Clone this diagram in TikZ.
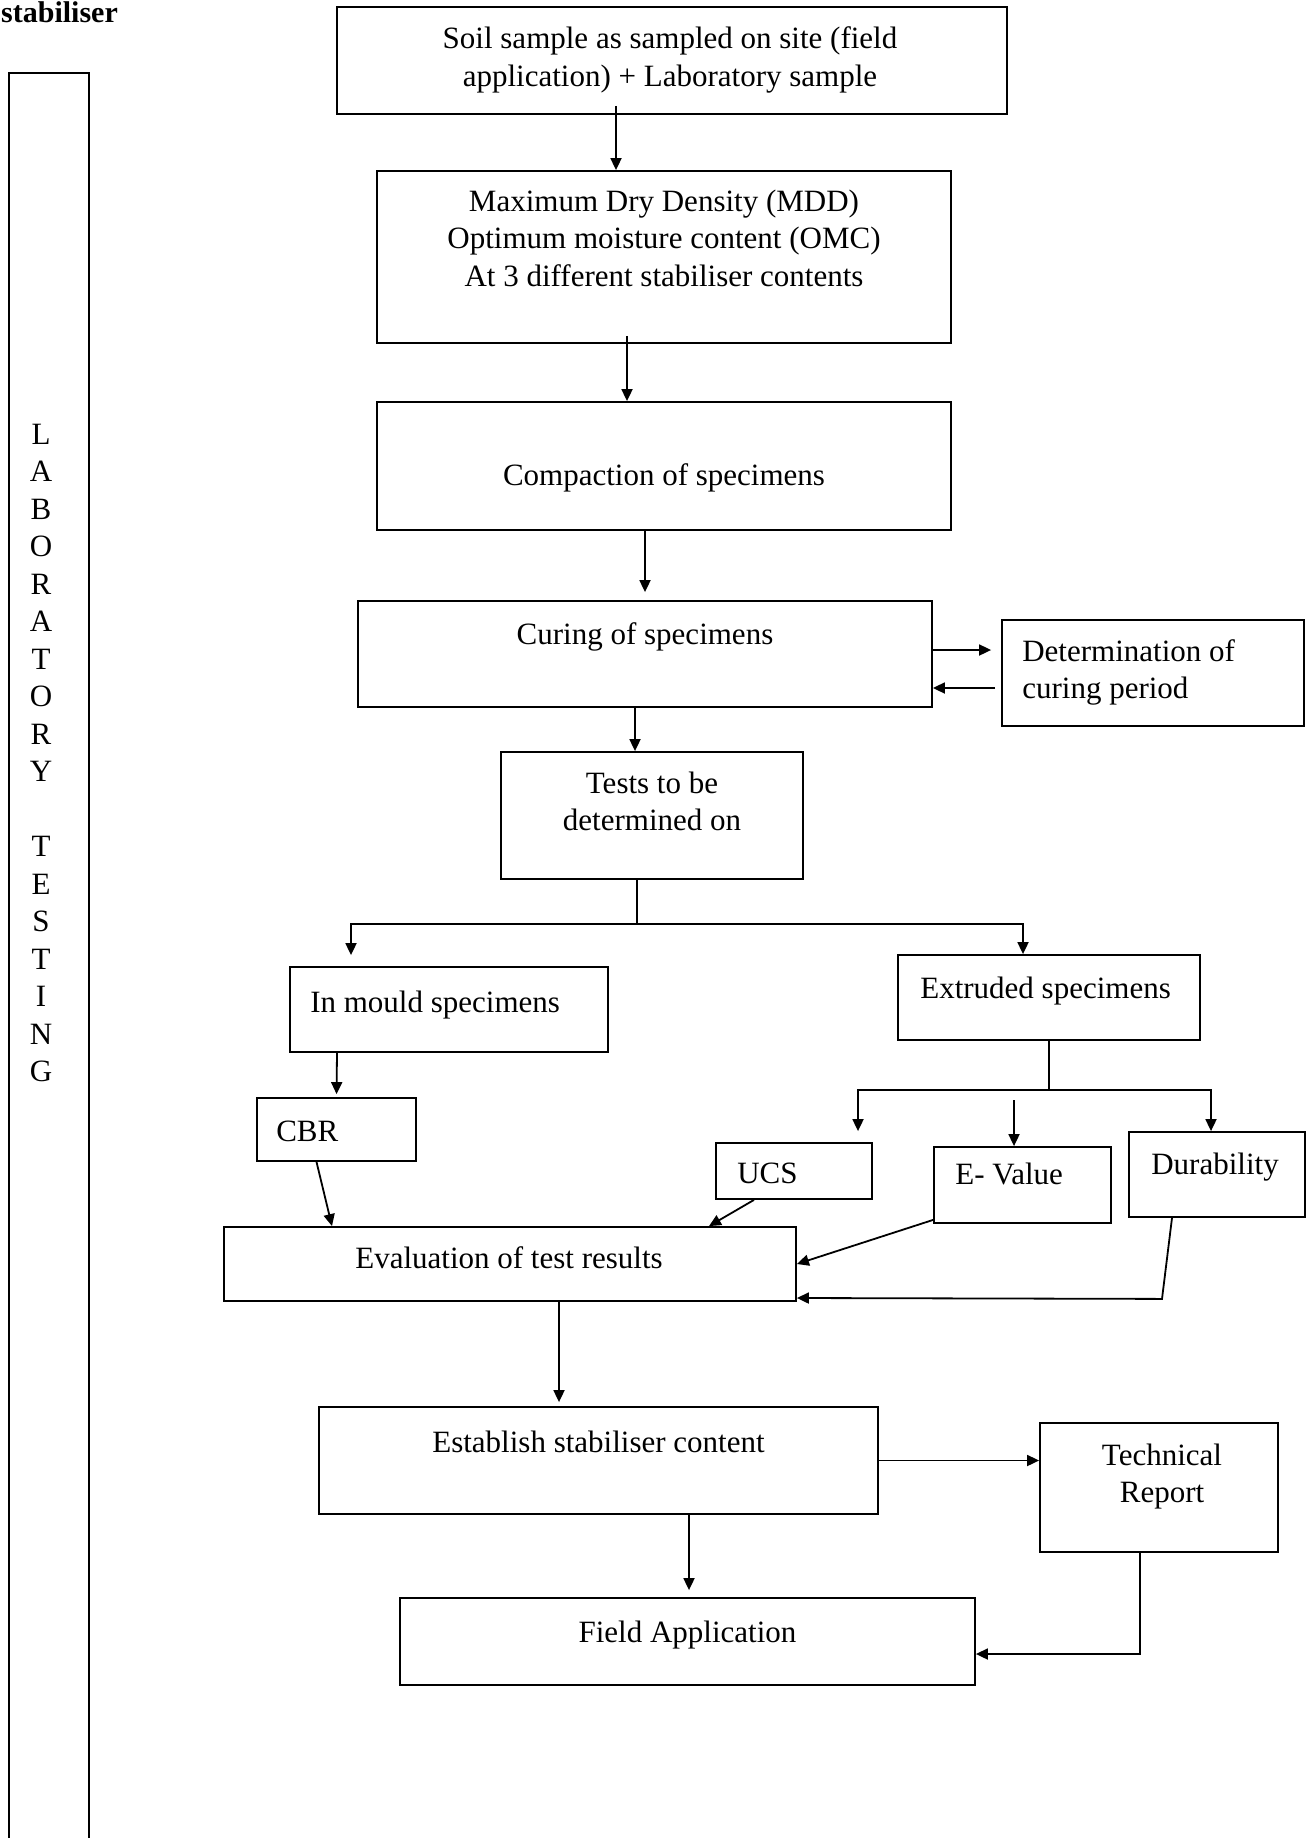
\documentclass[tikz,border=0pt]{standalone}
\usepackage{fontspec}
\setmainfont{Liberation Serif}
\usetikzlibrary{arrows.meta}

\begin{document}
\begin{tikzpicture}[x=1pt,y=-1pt,
  box/.style={rectangle,draw,line width=1.8pt,inner sep=0pt},
  txt/.style={inner sep=0pt,align=center,font=\fontsize{31}{37.5}\selectfont},
  arr/.style={line width=1.8pt,-{Triangle[length=12pt,width=11pt]}}]
\useasboundingbox (0,0) rectangle (1314,1838);

% side column
\node[inner sep=0pt,anchor=base west,font=\fontsize{30}{36}\selectfont\bfseries] (title) at (1,23) {stabiliser};
\node[box,minimum width=80pt,minimum height=1787pt] (lab) at (49,966.5) {};
\node[txt,anchor=north] (labT) at (41,423.5) {L\\A\\B\\O\\R\\A\\T\\O\\R\\Y\\[37.5pt]T\\E\\S\\T\\I\\N\\G};

% main column
\node[box,minimum width=670pt,minimum height=107pt] (soil) at (672,60.5) {};
\node[txt] (soilT) at ([xshift=-2pt,yshift=0.5pt]soil) {Soil sample as sampled on site (field\\application) + Laboratory sample};
\node[box,minimum width=574pt,minimum height=172pt] (mdd) at (664,257) {};
\node[txt] (mddT) at ([yshift=19pt]mdd) {Maximum Dry Density (MDD)\\Optimum moisture content (OMC)\\At 3 different stabiliser contents};
\node[box,minimum width=574pt,minimum height=128pt] (comp) at (664,466) {};
\node[txt] (compT) at ([yshift=-11.5pt]comp) {Compaction of specimens};
\node[box,minimum width=574pt,minimum height=106pt] (cure) at (645,654) {};
\node[txt] (cureT) at ([yshift=17.5pt]cure) {Curing of specimens};
\node[box,minimum width=302pt,minimum height=106pt] (det) at (1153,673) {};
\node[txt,anchor=west,align=left] (detT) at ([xshift=21pt,yshift=0.5pt]det.west) {Determination of\\curing period};
\node[box,minimum width=302pt,minimum height=127pt] (tests) at (652,815.5) {};
\node[txt] (testsT) at ([yshift=14pt]tests) {Tests to be\\determined on};

% specimens and tests
\node[box,minimum width=318pt,minimum height=85pt] (mould) at (449,1009.5) {};
\node[txt,anchor=west] (mouldT) at ([xshift=21pt,yshift=4pt]mould.west) {In mould specimens};
\node[box,minimum width=302pt,minimum height=85pt] (extr) at (1049,997.5) {};
\node[txt,anchor=west] (extrT) at ([xshift=23pt,yshift=6pt]extr.west) {Extruded specimens};
\node[box,minimum width=159pt,minimum height=63pt] (cbr) at (336.5,1129.5) {};
\node[txt,anchor=west] (cbrT) at ([xshift=20pt,yshift=-2pt]cbr.west) {CBR};
\node[box,minimum width=156pt,minimum height=56pt] (ucs) at (794,1171) {};
\node[txt,anchor=west] (ucsT) at ([xshift=22pt,yshift=-2pt]ucs.west) {UCS};
\node[box,minimum width=177pt,minimum height=76pt] (ev) at (1022.5,1185) {};
\node[txt,anchor=west] (evT) at ([xshift=22pt,yshift=11pt]ev.west) {E- Value};
\node[box,minimum width=176pt,minimum height=85pt] (dura) at (1217,1174.5) {};
\node[txt,anchor=west] (duraT) at ([xshift=23pt,yshift=7.5pt]dura.west) {Durability};

% results
\node[box,minimum width=572pt,minimum height=74pt] (eval) at (510,1264) {};
\node[txt] (evalT) at ([xshift=-1pt,yshift=6pt]eval) {Evaluation of test results};
\node[box,minimum width=559pt,minimum height=107pt] (est) at (598.5,1460.5) {};
\node[txt] (estT) at ([yshift=18.5pt]est) {Establish stabiliser content};
\node[box,minimum width=238pt,minimum height=129pt] (tech) at (1159,1487.5) {};
\node[txt] (techT) at ([xshift=3pt,yshift=11pt]tech) {Technical\\Report};
\node[box,minimum width=575pt,minimum height=87pt] (field) at (687.5,1641.5) {};
\node[txt] (fieldT) at ([yshift=6pt]field) {Field Application};

% connectors
\draw[arr] ([xshift=-56pt,yshift=9pt]soil.south) -- ([xshift=-48pt]mdd.north);
\draw[arr] ([xshift=-37pt,yshift=8pt]mdd.south) -- ([xshift=-37pt]comp.north);
\draw[arr,shorten >=8pt] ([xshift=-19pt]comp.south) -- (cure.north);
\draw[arr] ([yshift=4pt]cure.east) -- ([xshift=-10pt,yshift=23pt]det.west);
\draw[arr] ([xshift=-6pt,yshift=-15pt]det.west) -- ([yshift=-34pt]cure.east);
\draw[arr] ([xshift=-10pt]cure.south) -- ([xshift=-17pt]tests.north);
\coordinate (split) at (637,924);
\draw[line width=1.8pt] ([xshift=-15pt]tests.south) -- (split);
\draw[arr,shorten >=11pt] (split) -| ([xshift=-98pt]mould.north);
\draw[arr] (split) -| ([xshift=-26pt]extr.north);
\draw[arr,shorten >=3pt] ([xshift=-112pt]mould.south) -- (cbr.north);
\coordinate (fork) at (1049,1090);
\draw[line width=1.8pt] (extr.south) -- (fork);
\draw[arr,shorten >=11pt] (fork) -| ([xshift=64pt]ucs.north);
\draw[arr] (fork) -| ([xshift=-6pt]dura.north);
\coordinate (evtop) at (1014,1100);
\draw[arr] (evtop) -- ([xshift=-8.5pt]ev.north);
\draw[arr] ([xshift=-20pt]cbr.south) -- ([xshift=-178pt]eval.north);
\draw[arr] ([xshift=-40pt]ucs.south) -- ([xshift=199pt]eval.north);
\draw[arr] ([yshift=4pt]ev.south west) -- (eval.east);
\draw[arr] ([xshift=-45pt]dura.south) -- ++(-10,81) -- ([yshift=-34pt]eval.east);
\draw[arr,shorten >=4pt] ([xshift=49pt]eval.south) -- ([xshift=-39.5pt]est.north);
\draw[arr] (est.east) -- (est.east -| tech.west);
\draw[arr,shorten >=7pt] ([xshift=90.5pt]est.south) -- ([xshift=1.5pt]field.north);
\draw[arr] ([xshift=-19pt]tech.south) |- ([yshift=-12.5pt]field.east);
\end{tikzpicture}
\end{document}
